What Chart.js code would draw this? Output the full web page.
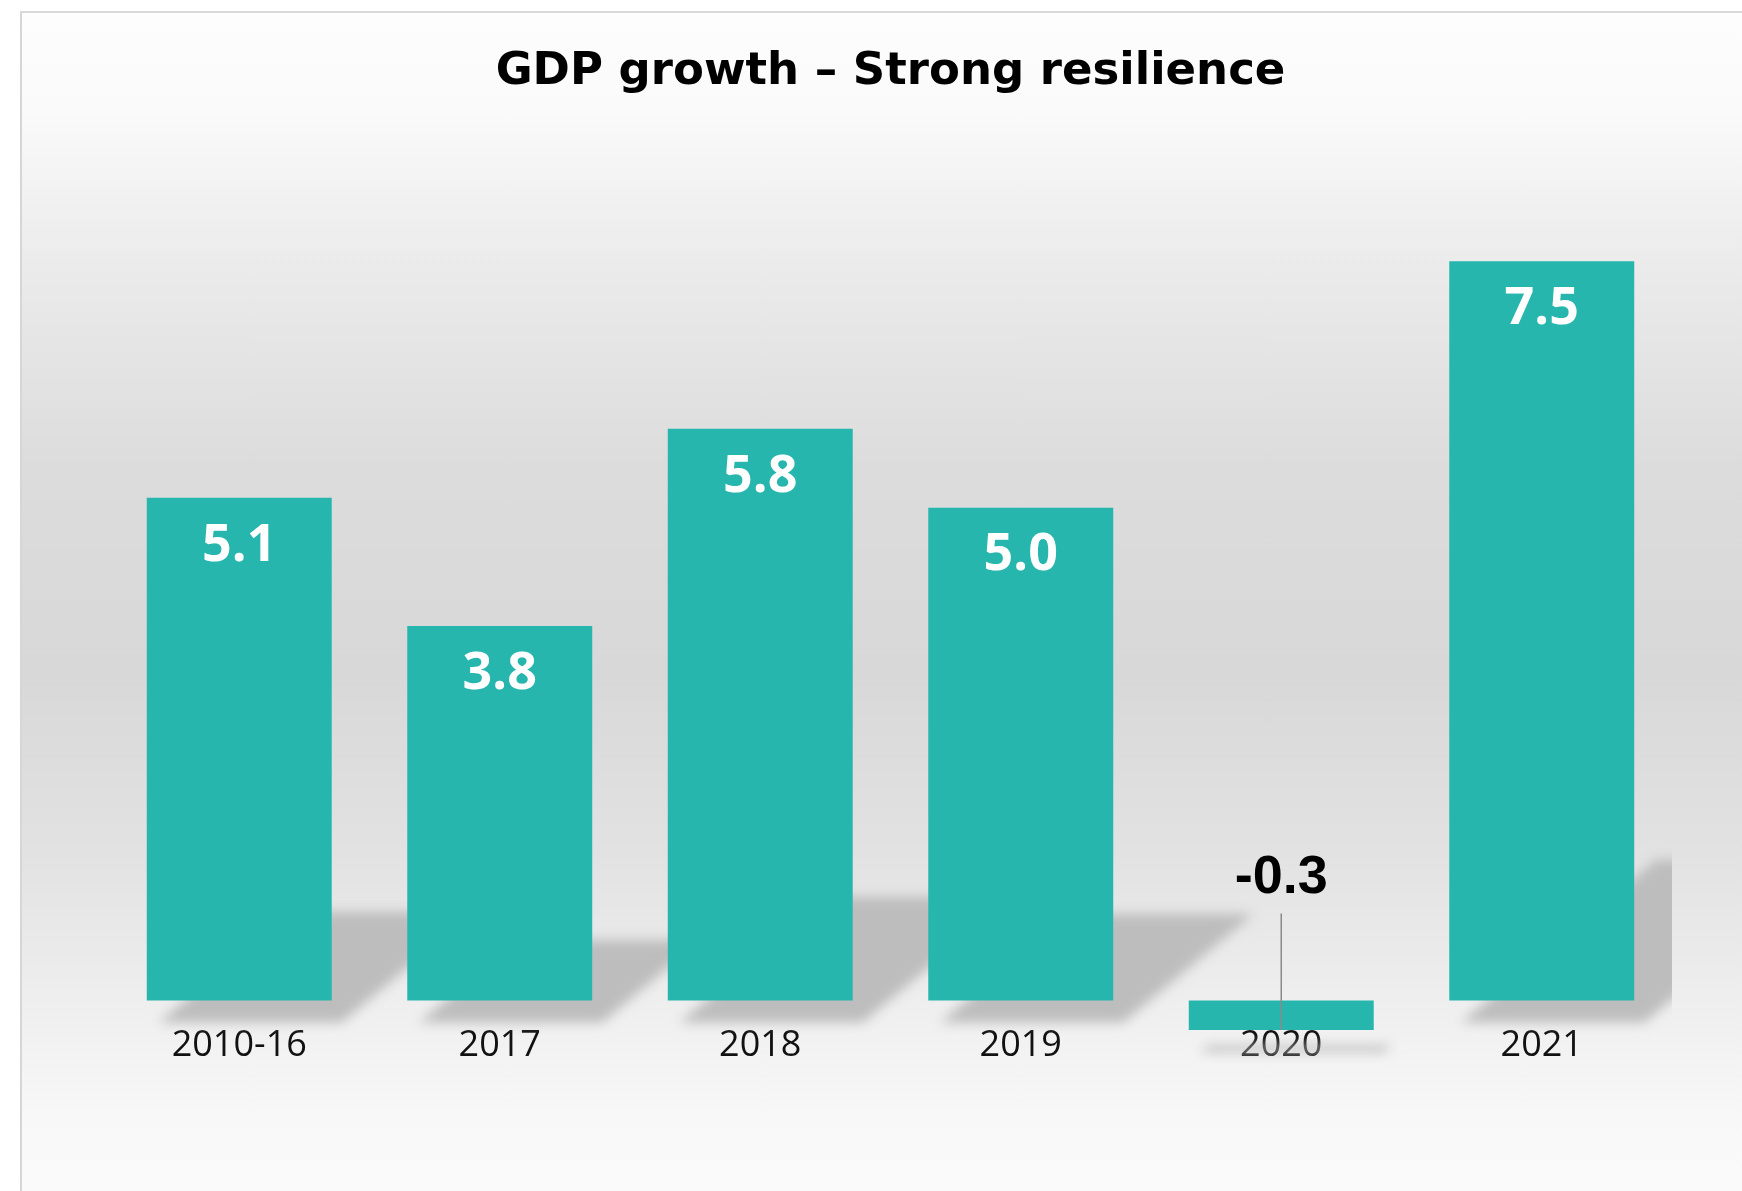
<!DOCTYPE html>
<html>
<head>
<meta charset="utf-8">
<title>GDP growth</title>
<script src="https://cdn.jsdelivr.net/npm/chart.js@4.4.1/dist/chart.umd.min.js"></script>
<style>
  html, body { margin: 0; padding: 0; background: #ffffff; overflow: hidden; }
  #wrap { position: relative; width: 1742px; height: 1191px; }
  #panel {
    position: absolute; left: 20px; top: 11px; width: 1760px; height: 1200px;
    border-left: 2px solid #d6d6d6; border-top: 2px solid #d9d9d9;
    background: linear-gradient(to bottom, #fdfdfd 0%, #fafafa 8%, #ececec 20%, #dcdcdc 38%,
      #d8d8d8 55%, #e2e2e2 70%, #f0f0f0 84%, #f8f8f8 92%, #fbfbfb 100%);
  }
  #gdpChart { position: absolute; left: 0; top: 0; }
</style>
</head>
<body>
<div id="wrap">
  <div id="panel"></div>
  <canvas id="gdpChart" width="1742" height="1191"></canvas>
</div>
<script>
const periods = ['2010-16', '2017', '2018', '2019', '2020', '2021'];
const growth = [5.1, 3.8, 5.8, 5.0, -0.3, 7.5];
const yRange = [-1, 8];

const teal = '#26B6AD';

// soft floor shadow behind each bar, skewed to the right
const barShadows = {
    id: 'barShadows',
    beforeDatasetsDraw(chart) {
        const { ctx, chartArea } = chart;
        const bars = chart.getDatasetMeta(0).data;
        ctx.save();
        ctx.beginPath();
        ctx.rect(chartArea.left, chartArea.top, chartArea.right - chartArea.left, chartArea.bottom - chartArea.top);
        ctx.clip();
        ctx.filter = 'blur(6px)';
        ctx.fillStyle = '#bdbdbd';
        bars.forEach(bar => {
            const half = bar.width / 2;
            const left = bar.x - half, right = bar.x + half;
            const bottom = Math.max(bar.y, bar.base);
            const d = Math.abs(bar.base - bar.y) * 0.22;
            const floor = bottom + 22;
            ctx.beginPath();
            ctx.moveTo(left + 12, floor);
            ctx.lineTo(right + 10, floor);
            ctx.lineTo(right + 10 + d * 1.2, floor - d);
            ctx.lineTo(left + 12 + d * 1.2, floor - d);
            ctx.closePath();
            ctx.fill();
        });
        ctx.restore();
    }
};

// value labels: white inside positive bars, black above with a leader line for negatives
const valueLabels = {
    id: 'valueLabels',
    afterDatasetsDraw(chart) {
        const { ctx } = chart;
        const bars = chart.getDatasetMeta(0).data;
        ctx.save();
        ctx.textAlign = 'center';
        ctx.textBaseline = 'middle';
        bars.forEach((bar, i) => {
            const v = growth[i];
            const txt = v.toFixed(1);
            if (v >= 0) {
                ctx.fillStyle = '#ffffff';
                ctx.font = 'bold 52px "Open Sans"';
                ctx.fillText(txt, bar.x, bar.y + 48);
            } else {
                const ly = bar.base - 122;
                ctx.strokeStyle = '#8a8a8a';
                ctx.lineWidth = 1.5;
                ctx.beginPath();
                ctx.moveTo(bar.x, ly + 35);
                ctx.lineTo(bar.x, bar.y);
                ctx.stroke();
                ctx.fillStyle = '#000000';
                ctx.font = 'bold 54px "Liberation Sans"';
                ctx.fillText(txt, bar.x, ly);
            }
        });
        ctx.restore();
    }
};

document.addEventListener('DOMContentLoaded', function() {
    const ctx = document.getElementById('gdpChart');
    new Chart(ctx, {
        type: 'bar',
        data: {
            labels: periods,
            datasets: [{ data: growth, backgroundColor: teal, borderWidth: 0, categoryPercentage: 1, barPercentage: 0.71 }]
        },
        options: {
            responsive: false,
            animation: false,
            layout: { padding: { left: 109, right: 70, top: 0, bottom: 92 } },
            plugins: {
                legend: { display: false },
                tooltip: { enabled: false },
                title: {
                    display: true,
                    text: 'GDP growth – Strong resilience',
                    color: '#000000',
                    font: { family: '"DejaVu Sans"', weight: 'bold', size: 45 },
                    padding: { top: 45, bottom: 113 }
                }
            },
            scales: {
                x: {
                    position: { y: 0 },
                    z: 1,
                    grid: { display: false, drawTicks: false },
                    border: { display: false },
                    ticks: { color: '#111111', padding: 24, font: { family: '"Open Sans"', size: 36 } }
                },
                y: { display: false, min: yRange[0], max: yRange[1] }
            }
        },
        plugins: [barShadows, valueLabels]
    });
});
</script>
</body>
</html>
